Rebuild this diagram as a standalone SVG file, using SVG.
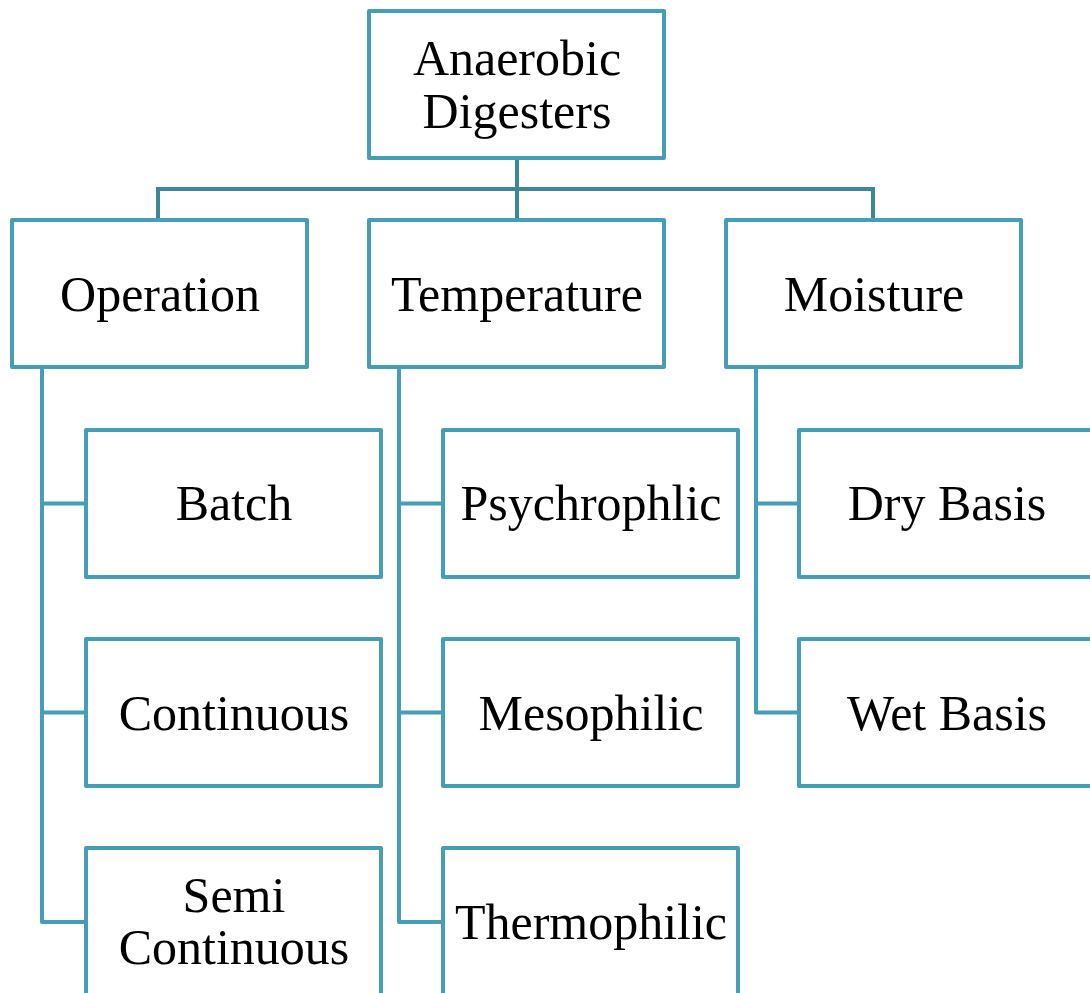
<svg xmlns="http://www.w3.org/2000/svg" width="1090" height="993" viewBox="0 0 1090 993">
<style>
.box{fill:#fff;stroke:#469eb6;stroke-width:4;stroke-linejoin:round}
.ln{fill:none;stroke:#469eb6;stroke-width:4;stroke-linejoin:round}
.bus{fill:none;stroke:#3e8799;stroke-width:4}
text{font-family:"Liberation Serif","Times New Roman",serif;font-size:50px;fill:#000;text-anchor:middle}
</style>
<rect width="1090" height="993" fill="#fff"/>
<g id="connectors">
<path class="bus" d="M158,220 V189 H873 V220 M517,158 V220"/>
<path class="ln" d="M42,367 V922 H86 M42,503.5 H86 M42,712.5 H86"/>
<path class="ln" d="M399,367 V922 H443 M399,503.5 H443 M399,712.5 H443"/>
<path class="ln" d="M756,367 V712.5 H799 M756,503.5 H799"/>
</g>
<g id="root"><rect class="box" x="369" y="11" width="295" height="147"/><text x="517" y="75">Anaerobic</text><text x="517" y="128">Digesters</text></g>
<g id="operation"><rect class="box" x="12" y="220" width="295" height="147"/><text x="160" y="311">Operation</text></g>
<g id="temperature"><rect class="box" x="369" y="220" width="295" height="147"/><text x="517" y="311">Temperature</text></g>
<g id="moisture"><rect class="box" x="726" y="220" width="295" height="147"/><text x="874" y="311">Moisture</text></g>
<g id="batch"><rect class="box" x="86" y="430" width="295" height="147"/><text x="234" y="520">Batch</text></g>
<g id="continuous"><rect class="box" x="86" y="639" width="295" height="147"/><text x="234" y="730">Continuous</text></g>
<g id="semi"><rect class="box" x="86" y="848" width="295" height="160"/><text x="234" y="912">Semi</text><text x="234" y="964">Continuous</text></g>
<g id="psychrophilic"><rect class="box" x="443" y="430" width="295" height="147"/><text x="591" y="520">Psychrophlic</text></g>
<g id="mesophilic"><rect class="box" x="443" y="639" width="295" height="147"/><text x="591" y="730">Mesophilic</text></g>
<g id="thermophilic"><rect class="box" x="443" y="848" width="295" height="160"/><text x="591" y="939">Thermophilic</text></g>
<g id="drybasis"><rect class="box" x="799" y="430" width="295" height="147"/><text x="947" y="520">Dry Basis</text></g>
<g id="wetbasis"><rect class="box" x="799" y="639" width="295" height="147"/><text x="947" y="730">Wet Basis</text></g>
</svg>
